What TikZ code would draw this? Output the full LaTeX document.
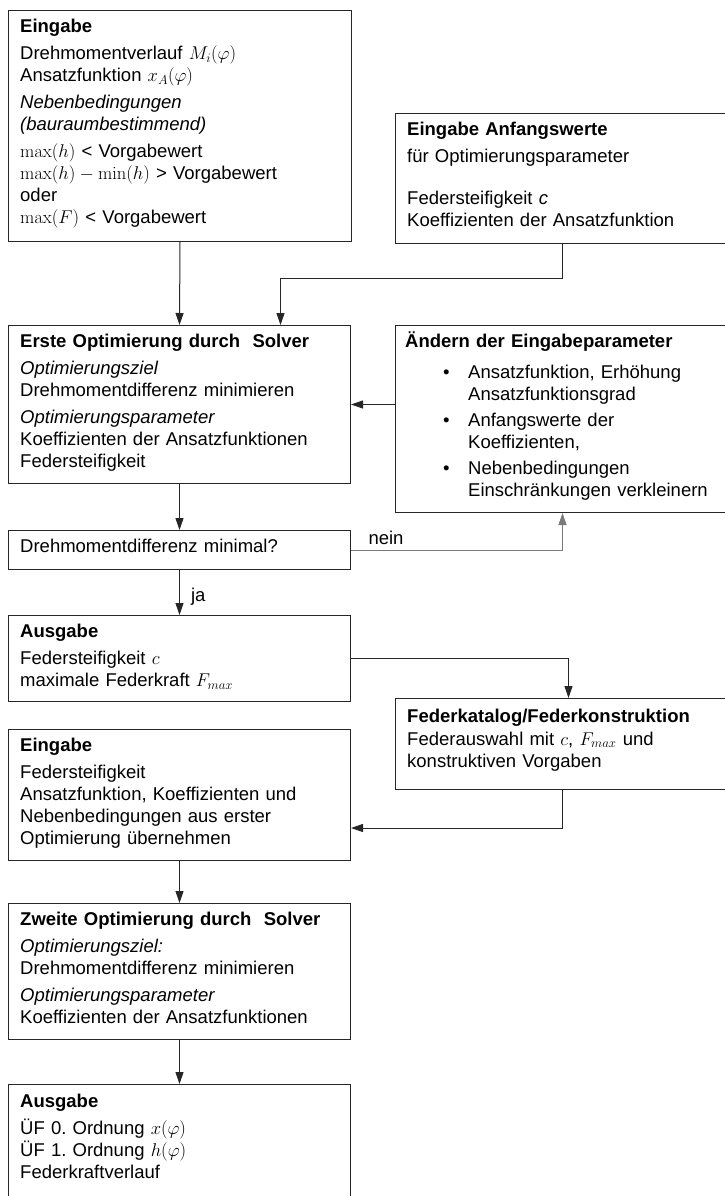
\RequirePackage{fix-cm}
\documentclass[tikz,border=0pt]{standalone}
\usepackage[no-math]{fontspec}
\setmainfont{Liberation Sans}
\usepackage{amsmath}
\usetikzlibrary{calc, arrows.meta, positioning}
\definecolor{flowline}{HTML}{262626}
\definecolor{flowgray}{HTML}{7A7A7A}
\setlength{\parindent}{0pt}
\frenchspacing

\begin{document}
\begin{tikzpicture}[x=1pt, y=-1pt,
    box/.style={draw=flowline, line width=1pt, rectangle, anchor=north west, inner sep=0pt},
    boxtext/.style={anchor=north west, inner sep=0pt, text width=320pt, align=left,
                    font=\fontsize{18.5}{22}\selectfont},
    flow/.style={draw=flowline, line width=1pt, -{Triangle[length=12pt,width=8pt]}}]
    \useasboundingbox (0,0) rectangle (725,1196);

    % Boxes, left column
    \node[box, minimum width=343pt, minimum height=231pt] (in1) at (8,10) {};
    \node[box, minimum width=342pt, minimum height=158pt] (opt1) at (8,325) {};
    \node[box, minimum width=342pt, minimum height=39pt] (check) at (8,530) {};
    \node[box, minimum width=342pt, minimum height=86pt] (out1) at (8,615) {};
    \node[box, minimum width=342pt, minimum height=131pt] (in2) at (8,729) {};
    \node[box, minimum width=342pt, minimum height=136pt] (opt2) at (8,903) {};
    \node[box, minimum width=342pt, minimum height=130pt] (out2) at (8,1084) {};

    % Boxes, right column (cut at the page edge)
    \node[box, minimum width=334pt, minimum height=130pt] (start) at (395,113) {};
    \node[box, minimum width=334pt, minimum height=187pt] (mod) at (395,325) {};
    \node[box, minimum width=334pt, minimum height=91pt] (cat) at (395,698) {};

    % Texts
    \node[boxtext] (in1text) at ([xshift=12pt, yshift=-9pt]in1.north west) {%
        \textbf{Eingabe}\\[5pt]
        Drehmomentverlauf $M_i(\varphi)$\\
        Ansatzfunktion $x_A(\varphi)$\\[5pt]
        \textit{Nebenbedingungen}\\
        \textit{(bauraumbestimmend)}\\[5pt]
        $\max(h)$ < Vorgabewert\\
        $\max(h)-\min(h)$ > Vorgabewert\\
        oder\\
        $\max(F)$ < Vorgabewert};
    \node[boxtext] (starttext) at ([xshift=12pt, yshift=-9pt]start.north west) {%
        \textbf{Eingabe Anfangswerte}\\[5pt]
        für Optimierungsparameter\\[20pt]
        Federsteifigkeit \textit{c}\\
        Koeffizienten der Ansatzfunktion};
    \node[boxtext] (opt1text) at ([xshift=12pt, yshift=-9pt]opt1.north west) {%
        \textbf{Erste Optimierung durch\ \ Solver}\\[5pt]
        \textit{Optimierungsziel}\\
        Drehmomentdifferenz minimieren\\[5pt]
        \textit{Optimierungsparameter}\\
        Koeffizienten der Ansatzfunktionen\\
        Federsteifigkeit};
    \node[boxtext] (modtext) at ([xshift=10pt, yshift=-6pt]mod.north west) {%
        \textbf{Ändern der Eingabeparameter}\\[9pt]
        \hspace*{38pt}\makebox[25pt][l]{\textbullet}Ansatzfunktion, Erhöhung\\
        \hspace*{63pt}Ansatzfunktionsgrad\\[4pt]
        \hspace*{38pt}\makebox[25pt][l]{\textbullet}Anfangswerte der\\
        \hspace*{63pt}Koeffizienten,\\[4pt]
        \hspace*{38pt}\makebox[25pt][l]{\textbullet}Nebenbedingungen\\
        \hspace*{63pt}Einschränkungen verkleinern};
    \node[boxtext] (checktext) at ([xshift=12pt, yshift=-9pt]check.north west) {%
        Drehmomentdifferenz minimal?};
    \node[boxtext] (out1text) at ([xshift=12pt, yshift=-9pt]out1.north west) {%
        \textbf{Ausgabe}\\[5pt]
        Federsteifigkeit $c$\\
        maximale Federkraft $F_{max}$};
    \node[boxtext] (cattext) at ([xshift=12pt, yshift=-10.5pt]cat.north west) {%
        \textbf{Federkatalog/Federkonstruktion}\\[1pt]
        Federauswahl mit $c$, $F_{max}$ und\\
        konstruktiven Vorgaben};
    \node[boxtext] (in2text) at ([xshift=12pt, yshift=-9pt]in2.north west) {%
        \textbf{Eingabe}\\[5pt]
        Federsteifigkeit\\
        Ansatzfunktion, Koeffizienten und\\
        Nebenbedingungen aus erster\\
        Optimierung übernehmen};
    \node[boxtext] (opt2text) at ([xshift=12pt, yshift=-9pt]opt2.north west) {%
        \textbf{Zweite Optimierung durch\ \ Solver}\\[5pt]
        \textit{Optimierungsziel:}\\
        Drehmomentdifferenz minimieren\\[5pt]
        \textit{Optimierungsparameter}\\
        Koeffizienten der Ansatzfunktionen};
    \node[boxtext] (out2text) at ([xshift=12pt, yshift=-10pt]out2.north west) {%
        \textbf{Ausgabe}\\[5pt]
        ÜF 0. Ordnung $x(\varphi)$\\
        ÜF 1. Ordnung $h(\varphi)$\\
        Federkraftverlauf};

    % Connectors
    \draw[flow] (in1.south) -- (opt1.north);
    \draw[flow] (start.south) -- ++(0,34) -| ($(opt1.north)+(101,0)$);
    \draw[flow] (mod.west |- opt1.east) -- (opt1.east);
    \draw[flow] (opt1.south) -- (check.north);
    \draw[flow, draw=flowgray] (check.east)
        node[anchor=south west, inner sep=0pt, xshift=17pt, yshift=5pt,
             font=\fontsize{18.5}{22}\selectfont] (neinlabel) {nein}
        -| (mod.south);
    \draw[flow] (check.south) -- (out1.north)
        node[midway, anchor=west, inner sep=0pt, xshift=11pt, yshift=-4pt,
             font=\fontsize{18.5}{22}\selectfont] (jalabel) {ja};
    \draw[flow] (out1.east) -| ([xshift=6pt]cat.north);
    \draw[flow] (cat.south) |- ([yshift=-33pt]in2.east);
    \draw[flow] (in2.south) -- (opt2.north);
    \draw[flow] (opt2.south) -- (out2.north);
\end{tikzpicture}
\end{document}
